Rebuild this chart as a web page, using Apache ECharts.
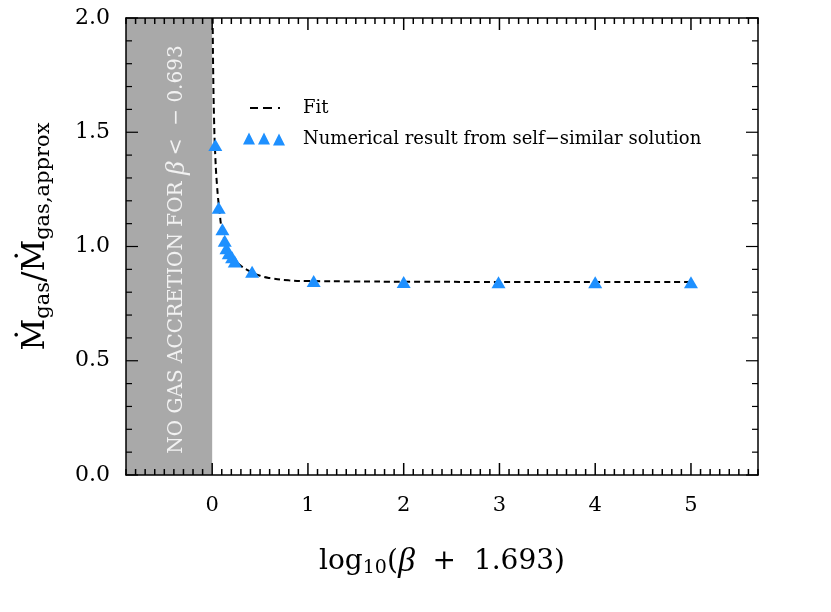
<!DOCTYPE html>
<html>
<head>
<meta charset="utf-8">
<script src="https://cdn.jsdelivr.net/npm/echarts@6/dist/echarts.min.js"></script>
<style>
  html, body { margin: 0; padding: 0; background: #fff; }
  #chart { width: 831px; height: 612px; }
</style>
</head>
<body>
<div id="chart"></div>
<script>
// 数值解（三角形）
var simX = [0.033, 0.068, 0.107, 0.131, 0.149, 0.173, 0.208, 0.236, 0.417, 1.06, 2.0, 2.99, 4.0, 5.0]
var simY = [1.444, 1.17, 1.075, 1.025, 0.992, 0.970, 0.953, 0.934, 0.890, 0.849, 0.845, 0.844, 0.844, 0.844]

// 拟合曲线（虚线）
var fitX = [0.005, 0.01, 0.02, 0.03, 0.05, 0.08, 0.1, 0.15, 0.2, 0.25, 0.3, 0.4, 0.5, 0.6, 0.8, 1.0, 1.5, 2, 3, 4, 5]
var fitY = [2.0, 1.78, 1.55, 1.42, 1.27, 1.14, 1.08, 1.0, 0.96, 0.935, 0.915, 0.89, 0.872, 0.862, 0.852, 0.849, 0.847, 0.846, 0.845, 0.845, 0.845]

// 坐标范围和刻度
var xMin = -0.9, xMax = 5.7, xMinorStep = 0.1
var yMin = 0, yMax = 2, yStep = 0.5
var xTickLabels = ['0', '1', '2', '3', '4', '5']
var yTickLabels = ['0.0', '0.5', '1.0', '1.5', '2.0']

// 刻度线位置（大刻度 12px，小刻度 6px）
var xTicks = []
for (var i = -9; i <= 57; i++) xTicks.push([i / 10, 1, i % 10 === 0 ? 12 : 6])
var yTicks = []
for (var j = 0; j <= 20; j++) yTicks.push([1, j / 10, j % 5 === 0 ? 12 : 6])

var serif = 'DejaVu Serif'

function zip(a, b) {
    return a.map(function (v, k) { return [v, b[k]] })
}

function frameX(pos, showLabel, name) {
    return {
        type: 'value', position: pos, min: xMin, max: xMax, interval: xMinorStep, z: 10,
        axisLine: { show: true, onZero: false, lineStyle: { color: '#000', width: 1.5 } },
        axisTick: { show: false },
        axisLabel: showLabel ? {
            show: true, interval: 0, hideOverlap: false, margin: 20,
            color: '#000', fontFamily: serif, fontSize: 21,
            formatter: function (v) {
                var k = Math.round(v)
                return (Math.abs(v - k) < 1e-6 && k >= 0) ? xTickLabels[k] : ''
            }
        } : { show: false },
        splitLine: { show: false },
        name: name || '',
        nameLocation: 'middle',
        nameGap: 70,
        nameTextStyle: {
            rich: {
                n: { fontSize: 28, fontFamily: serif, color: '#000' },
                sub: { fontSize: 19, fontFamily: serif, color: '#000', padding: [13, 0, 0, 0] },
                b: { fontSize: 34, fontFamily: 'Liberation Serif', fontStyle: 'italic', color: '#000' }
            }
        }
    }
}

function frameY(pos, showLabel, name) {
    return {
        type: 'value', position: pos, min: yMin, max: yMax, interval: yStep, z: 10,
        axisLine: { show: true, onZero: false, lineStyle: { color: '#000', width: 1.5 } },
        axisTick: { show: false },
        axisLabel: showLabel ? {
            show: true, margin: 16, color: '#000', fontFamily: serif, fontSize: 22,
            formatter: function (v, idx) { return yTickLabels[idx] }
        } : { show: false },
        splitLine: { show: false },
        name: name || '',
        nameLocation: 'middle',
        nameRotate: 90,
        nameGap: 72,
        nameTextStyle: {
            padding: [0, 0, 0, 20],
            rich: {
                m: { fontSize: 31, fontFamily: serif, color: '#000' },
                s: { fontSize: 21, fontFamily: serif, color: '#000', padding: [15, 0, 0, 0] }
            }
        }
    }
}

// 刻度线：自定义系列，位置通过 api.coord 计算
function tickSeries(data, vertical) {
    return {
        type: 'custom',
        silent: true,
        clip: false,
        z: 6,
        encode: { x: 0, y: 1 },
        data: data,
        renderItem: function (params, api) {
            var len = api.value(2)
            var st = { fill: '#000' }
            if (vertical) {
                var b = api.coord([api.value(0), yMin])
                var t = api.coord([api.value(0), yMax])
                var x = b[0] - 0.75
                return { type: 'group', children: [
                    { type: 'rect', shape: { x: x, y: b[1] - len, width: 1.5, height: len }, style: st },
                    { type: 'rect', shape: { x: x, y: t[1], width: 1.5, height: len }, style: st }
                ] }
            }
            var l = api.coord([xMin, api.value(1)])
            var r = api.coord([xMax, api.value(1)])
            var y = l[1] - 0.6
            return { type: 'group', children: [
                { type: 'rect', shape: { x: l[0], y: y, width: len, height: 1.2 }, style: st },
                { type: 'rect', shape: { x: r[0] - len, y: y, width: len, height: 1.2 }, style: st }
            ] }
        }
    }
}

var myChart = echarts.init(document.getElementById('chart'))

var option = {
    backgroundColor: '#fff',
    animation: false,
    grid: { left: 126, right: 73, top: 18, bottom: 137 },
    xAxis: [
        frameX('bottom', true, '{n|log}{sub|10}{n|(}{b|β}{n|  +  1.693)}'),
        frameX('top', false)
    ],
    yAxis: [
        frameY('left', true, '{m|Ṁ}{s|gas}{m|/Ṁ}{s|gas,approx}'),
        frameY('right', false)
    ],
    legend: {
        left: 238, top: 94, orient: 'vertical', itemGap: 13,
        itemWidth: 42, itemHeight: 14,
        textStyle: { fontFamily: serif, fontSize: 18, color: '#000', padding: [0, 0, 0, 13] },
        data: [
            { name: 'Fit', icon: 'path://M7,6h8v2h-8zM20,6h9v2h-9zM35,6h2v2h-2zM0,0h0.01v0.01h-0.01zM42,14h0.01v0.01h-0.01z', itemStyle: { color: '#000' } },
            { name: 'Numerical result from self\u2212similar solution',
              icon: 'path://M6,0L12,12L0,12zM21,0L27,12L15,12zM36,1L42,13L30,13z', itemStyle: { color: '#1e90ff' } }
        ]
    },
    series: [
        {
            name: 'region',
            type: 'line',
            data: [],
            silent: true,
            markArea: {
                silent: true,
                itemStyle: { color: '#a9a9a9' },
                label: {
                    show: true, position: 'inside', rotate: 90, offset: [-3, 8],
                    color: '#f2f2f2', fontFamily: serif, fontSize: 20,
                    formatter: '{t|NO GAS ACCRETION FOR }{b|β}{t| <  \u2212 0.693}',
                    rich: {
                        t: { color: '#f2f2f2', fontFamily: serif, fontSize: 20 },
                        b: { color: '#f2f2f2', fontFamily: 'Liberation Serif', fontStyle: 'italic', fontSize: 27 }
                    }
                },
                data: [[{ xAxis: xMin, yAxis: yMin }, { xAxis: 0, yAxis: yMax }]]
            }
        },
        tickSeries(xTicks, true),
        tickSeries(yTicks, false),
        {
            name: 'Fit',
            type: 'line',
            data: zip(fitX, fitY),
            smooth: true,
            showSymbol: false,
            symbol: 'none',
            lineStyle: { color: '#000', width: 2, type: [6, 4] },
            z: 3
        },
        {
            name: 'Numerical result from self\u2212similar solution',
            type: 'scatter',
            data: zip(simX, simY),
            symbol: 'triangle',
            symbolSize: [14, 12],
            itemStyle: { color: '#1e90ff', opacity: 1 },
            z: 4
        }
    ]
}

myChart.setOption(option)
</script>
</body>
</html>
